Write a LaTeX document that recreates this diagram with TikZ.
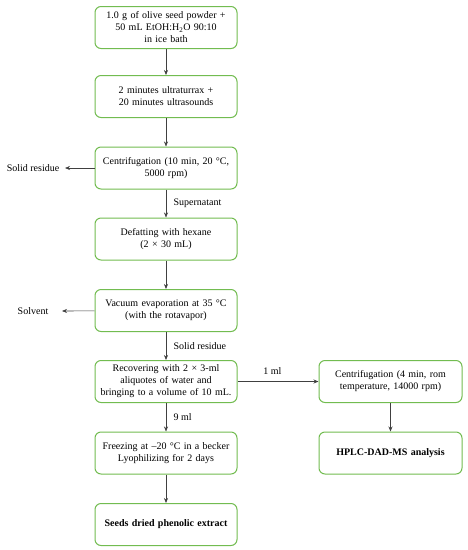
\documentclass[tikz,border=0pt]{standalone}
\usepackage{fontspec}
\setmainfont{Liberation Serif}
\usepackage{xcolor}
\usetikzlibrary{positioning,arrows.meta}
\definecolor{boxgreen}{HTML}{72BC50}
\definecolor{linegray}{HTML}{404040}

\begin{document}
\begin{tikzpicture}[x=1pt, y=-1pt,
  stepbox/.style={draw=boxgreen, line width=1pt, rounded corners=6pt, fill=white,
    minimum width=142pt, minimum height=42pt, text width=136pt, align=center,
    inner sep=1pt, font=\fontsize{10}{12}\selectfont},
  flow/.style={linegray, line width=0.6pt, -{Stealth[length=5pt, width=4pt]}},
  side/.style={text=black, font=\fontsize{10}{12}\selectfont},
]
\useasboundingbox (0,0) rectangle (468,550);
% main column
\node[stepbox] (powder) at (166,27.5) {1.0 g of olive seed powder +\\50 mL EtOH:H\textsubscript{2}O 90:10\\in ice bath};
\node[stepbox] (ultra)  at (166,96.5) {2 minutes ultraturrax +\\20 minutes ultrasounds};
\node[stepbox] (centa)  at (166,168) {Centrifugation (10 min, 20 \textdegree C,\\5000 rpm)};
\node[stepbox] (defat)  at (166,239) {Defatting with hexane\\(2 \texttimes{} 30 mL)};
\node[stepbox] (vacuum) at (166,310.5) {Vacuum evaporation at 35 \textdegree C\\(with the rotavapor)};
\node[stepbox] (recov)  at (166,381.5) {Recovering with 2 \texttimes{} 3-ml\\aliquotes of water and\\bringing to a volume of 10 mL.};
\node[stepbox] (freeze) at (166,453) {Freezing at \textendash20 \textdegree C in a becker\\Lyophilizing for 2 days};
\node[stepbox] (extract) at (166,524.5) {\textbf{Seeds dried phenolic extract}};
% right column
\node[stepbox, minimum width=143pt] (centb) at (390.5,381.5) {Centrifugation (4 min, rom\\temperature, 14000 rpm)};
\node[stepbox, minimum width=143pt] (hplc)  at (390.5,453) {\textbf{HPLC-DAD-MS analysis}};
% side outputs
\node[side] (solid)   at (33,168) {Solid residue};
\node[side] (solvent) at (33,311) {Solvent};
\coordinate (solidend)   at (65,168);
\coordinate (solventend) at (62,311);

\draw[flow] (powder) -- (ultra);
\draw[flow] (ultra) -- (centa);
\draw[flow] (centa) -- node[side, right=4pt] {Supernatant} (defat);
\draw[flow] (defat) -- (vacuum);
\draw[flow] (vacuum) -- node[side, right=4pt] {Solid residue} (recov);
\draw[flow] (recov) -- node[side, right=4pt] {9 ml} (freeze);
\draw[flow] (freeze) -- (extract);
\draw[flow] (recov) -- node[side, above=3pt, pos=0.43] {1 ml} (centb);
\draw[flow] (centb) -- (hplc);
\draw[flow] (centa) -- (solidend);
\draw[flow] (vacuum) -- (solventend);
\end{tikzpicture}
\end{document}
